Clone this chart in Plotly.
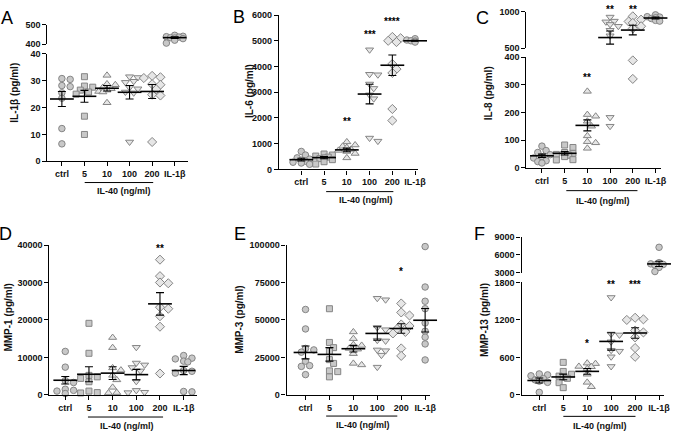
import plotly.graph_objects as go

W, H = 685, 436
groups = ["ctrl", "5", "10", "100", "200", "IL-1β"]

# panel A: IL-1beta (pg/ml)
il1b_pts = [
    [30.8, 30.5, 28.2, 27.8, 25.5, 23.5, 12.2, 6.5],
    [31.5, 28.0, 27.6, 26.5, 25.8, 25.0, 16.8, 10.0],
    [32.0, 28.8, 28.5, 27.5, 27.0, 26.5, 26.0, 25.8, 21.8],
    [31.5, 31.2, 29.8, 29.4, 27.5, 27.0, 25.8, 25.5, 7.2],
    [31.8, 31.3, 31.0, 28.7, 28.5, 26.8, 24.8, 24.5, 7.2],
    [445, 440, 438, 436, 433, 431, 428, 420, 405],
]
il1b_mean = [23.2, 24.2, 27.2, 25.7, 26.0, 433]
il1b_sem = [2.8, 2.2, 1.0, 2.5, 2.6, 4]
il1b_stars = []

# panel B: IL-6
il6_pts = [
    [700, 560, 450, 400, 360, 320, 280, 250, 200],
    [600, 560, 520, 480, 450, 420, 380, 300, 210],
    [1070, 950, 900, 850, 780, 740, 700, 620, 450],
    [4650, 3700, 3680, 3320, 3150, 2900, 2750, 1220, 1100],
    [5150, 5100, 5000, 4950, 4100, 3900, 3750, 2350, 1900],
    [5080, 5050, 5030, 5010, 5000, 4990, 4970, 4950, 4930],
]
il6_mean = [380, 460, 760, 2930, 4050, 5000]
il6_sem = [55, 45, 70, 380, 400, 20]
il6_stars = [(2, 1960, "**"), (3, 5320, "***"), (4, 5820, "****")]

# panel C: IL-8
il8_pts = [
    [78, 62, 55, 47, 40, 35, 25, 22, 17],
    [82, 73, 55, 52, 48, 45, 40, 29, 28],
    [276, 192, 186, 168, 150, 115, 94, 90, 70],
    [925, 870, 860, 825, 800, 745, 670, 182, 150],
    [935, 890, 865, 845, 800, 770, 388, 321],
    [955, 940, 930, 925, 915, 905, 895, 880, 870],
]
il8_mean = [43, 52, 153, 646, 748, 912]
il8_sem = [6, 6, 20, 90, 65, 12]
il8_stars = [(2, 335, "**"), (3, 1053, "**"), (4, 1053, "**")]

# panel D: MMP-1
mmp1_pts = [
    [11600, 7400, 3800, 3300, 1500, 1200, 1000, 350],
    [19100, 11100, 5200, 4800, 4400, 3500, 1000, 600, 500],
    [15300, 12600, 7200, 6600, 5200, 4000, 2000, 600, 500],
    [12700, 8500, 8000, 7300, 6400, 3600, 1200, 700, 600],
    [36100, 31700, 30000, 29800, 23400, 23000, 21000, 18200, 5700],
    [10500, 9800, 9600, 9000, 8800, 6500, 6300, 5800, 900, 800],
]
mmp1_mean = [3900, 5500, 5800, 5400, 24300, 6500]
mmp1_sem = [1000, 2000, 1700, 1400, 3000, 1100]
mmp1_stars = [(4, 39500, "**")]

# panel E: MMP-3
mmp3_pts = [
    [57000, 44000, 31000, 30000, 28500, 22500, 19500, 19000, 13500],
    [57500, 35000, 31500, 29000, 23500, 21000, 16000, 15500, 12000],
    [42000, 37500, 33500, 33000, 31000, 30500, 27500, 21000, 20000],
    [64500, 63500, 45000, 43500, 36500, 36000, 30000, 29500, 26500, 18500],
    [61000, 55000, 53000, 47000, 46000, 44000, 42000, 41000, 31000, 26000],
    [99000, 72000, 62500, 57500, 48000, 42500, 38500, 34000, 23300, 21700],
]
mmp3_mean = [28300, 27000, 30800, 41000, 44300, 49800]
mmp3_sem = [4300, 4500, 2200, 4500, 3200, 7800]
mmp3_stars = [(4, 84000, "*")]

# panel F: MMP-13
mmp13_pts = [
    [335, 320, 305, 260, 240, 220, 200, 40],
    [520, 375, 330, 300, 280, 265, 195, 115],
    [508, 500, 455, 450, 420, 330, 200, 130],
    [1560, 975, 960, 850, 715, 700, 610, 455],
    [1235, 1210, 1200, 1030, 1000, 920, 750, 610],
    [7300, 4700, 4600, 4500, 4400, 4300, 3900, 3650, 3200],
]
mmp13_mean = [230, 287, 376, 856, 991, 4490]
mmp13_sem = [40, 45, 45, 140, 85, 450]
mmp13_stars = [(2, 856, "*"), (3, 1800, "**"), (4, 1800, "***")]

symbols = ["circle", "square", "triangle-up", "triangle-down", "diamond", "circle"]
sizes = [6.5, 6, 7, 7, 7, 6.5]
fills = ["#c8c8c8", "#c8c8c8", "#e6e6e6", "#e6e6e6", "#e6e6e6", "#c8c8c8"]
edge = "#858585"
FONT = "Liberation Sans, Arial, sans-serif"

# segments: (lo, hi, tickvals, px_top, px_bottom), lower segment first
panels = [
    dict(letter="A", title="IL-1β (pg/ml)", pts=il1b_pts, mean=il1b_mean, sem=il1b_sem, stars=il1b_stars,
         xpx=(48, 190), xr=(-0.64, 5.58),
         segs=[(0, 40, [0, 10, 20, 30, 40], 50, 160), (400, 500, [400, 500], 20, 40)],
         lxy=(7.5, 13), txy=(15, 90), br=(85.7, 155, 181.7), lab=(125, 190.7)),
    dict(letter="B", title="IL-6 (pg/ml)", pts=il6_pts, mean=il6_mean, sem=il6_sem, stars=il6_stars,
         xpx=(282.3, 423), xr=(-0.98, 5.13),
         segs=[(0, 6000, [0, 1000, 2000, 3000, 4000, 5000, 6000], 10.3, 168.3)],
         lxy=(241.5, 12.5), txy=(253, 88), br=(330, 398, 191), lab=(370, 199.5)),
    dict(letter="C", title="IL-8 (pg/ml)", pts=il8_pts, mean=il8_mean, sem=il8_sem, stars=il8_stars,
         xpx=(532.7, 669), xr=(-0.68, 5.25),
         segs=[(0, 400, [0, 100, 200, 300, 400], 53.3, 166.5), (500, 1000, [500, 1000], 6.7, 44.3)],
         lxy=(488, 13.5), txy=(495, 90), br=(573, 645, 190), lab=(610, 200.5)),
    dict(letter="D", title="MMP-1 (pg/ml)", pts=mmp1_pts, mean=mmp1_mean, sem=mmp1_sem, stars=mmp1_stars,
         xpx=(50, 199), xr=(-0.67, 5.55),
         segs=[(0, 40000, [0, 10000, 20000, 30000, 40000], 245.7, 399)],
         lxy=(6, 234), txy=(9, 320), br=(89, 165, 421.7), lab=(128, 430.5)),
    dict(letter="E", title="MMP-3 (pg/ml)", pts=mmp3_pts, mean=mmp3_mean, sem=mmp3_sem, stars=mmp3_stars,
         xpx=(290, 435), xr=(-0.79, 5.2),
         segs=[(0, 100000, [0, 25000, 50000, 75000, 100000], 245.7, 399)],
         lxy=(243, 234), txy=(242, 322), br=(330, 402, 420.7), lab=(367, 430)),
    dict(letter="F", title="MMP-13 (pg/ml)", pts=mmp13_pts, mean=mmp13_mean, sem=mmp13_sem, stars=mmp13_stars,
         xpx=(527.7, 671.7), xr=(-0.74, 5.2),
         segs=[(0, 1800, [0, 600, 1200, 1800], 284, 399), (3000, 9000, [3000, 6000, 9000], 237.7, 274)],
         lxy=(485.5, 234), txy=(490, 322), br=(570, 643, 421), lab=(607, 430.5)),
]


def fx(px):
    return px / W


def fy(py):
    return 1 - py / H


def seg_of(v, segs):
    if len(segs) > 1 and v > segs[0][1]:
        return 1
    return 0


def ypix(v, segs):
    lo, hi, _, top, bot = segs[seg_of(v, segs)]
    return bot - (v - lo) / (hi - lo) * (bot - top)


def swarm(vals, segs, spacing):
    # deterministic scatter-dot spread: overlap allowed, width capped at +-2 steps
    placed = []
    res = [0.0] * len(vals)
    order = sorted(range(len(vals)), key=lambda k: -vals[k])
    for k in order:
        y = ypix(vals[k], segs)
        best, best_d = 0.0, -1
        for step in (0, 1, -1, 2, -2):
            x = step * 4.2
            d = min([((x - a) ** 2 + (y - b) ** 2) ** 0.5 for a, b in placed] or [99])
            if d >= 5.5:
                best = x
                break
            if d > best_d + 1.5:
                best, best_d = x, d
        placed.append((best, y))
        res[k] = best / spacing
    return res


fig = go.Figure()
axis_style = dict(showline=True, linecolor="black", linewidth=1.3, ticks="outside", ticklen=4,
                  tickwidth=1.3, tickcolor="black", showgrid=False, zeroline=False,
                  tickfont=dict(family=FONT, size=9, color="#111", weight="bold"))
annotations = []
shapes = []
yi = 0
for pi, p in enumerate(panels):
    xn = "x" if pi == 0 else f"x{pi + 1}"
    ynames = []
    for s in p["segs"]:
        yi += 1
        ynames.append("y" if yi == 1 else f"y{yi}")
    x0, x1 = p["xpx"]
    spacing = (x1 - x0) / (p["xr"][1] - p["xr"][0])
    fig.layout[xn.replace("x", "xaxis")] = dict(
        domain=[fx(x0), fx(x1)], range=list(p["xr"]), anchor=ynames[0],
        tickvals=list(range(6)), ticktext=groups, **axis_style)
    for s, yn in zip(p["segs"], ynames):
        lo, hi, tv, top, bot = s
        fig.layout[yn.replace("y", "yaxis")] = dict(
            domain=[fy(bot), fy(top)], range=[lo, hi], anchor=xn, tickvals=tv,
            ticktext=[str(t) for t in tv], **axis_style)

    for gi, vals in enumerate(p["pts"]):
        offs = swarm(vals, p["segs"], spacing)
        for si, yn in enumerate(ynames):
            sel = [k for k, v in enumerate(vals) if seg_of(v, p["segs"]) == si]
            if not sel:
                continue
            fig.add_trace(go.Scatter(
                x=[gi + offs[k] for k in sel], y=[vals[k] for k in sel], mode="markers",
                marker=dict(symbol=symbols[gi], size=sizes[gi], color=fills[gi],
                            line=dict(color=edge, width=1)),
                xaxis=xn, yaxis=yn, cliponaxis=False, hoverinfo="skip"))
    for si, yn in enumerate(ynames):
        sel = [g for g in range(6) if seg_of(p["mean"][g], p["segs"]) == si]
        if not sel:
            continue
        fig.add_trace(go.Scatter(
            x=sel, y=[p["mean"][g] for g in sel], mode="markers",
            marker=dict(symbol="line-ew", size=17, color="black", line=dict(color="black", width=1.6)),
            error_y=dict(type="data", array=[p["sem"][g] for g in sel], color="black",
                         thickness=1.1, width=4),
            xaxis=xn, yaxis=yn, cliponaxis=False, hoverinfo="skip"))

    for gi, val, txt in p["stars"]:
        annotations.append(dict(x=gi, y=fy(ypix(val, p["segs"])), xref=xn, yref="paper",
                                text=f"<b>{txt}</b>", showarrow=False, yanchor="middle", yshift=-2,
                                font=dict(family=FONT, size=10, color="black")))
    # panel letter
    annotations.append(dict(x=fx(p["lxy"][0]), y=fy(p["lxy"][1]), xref="paper", yref="paper",
                            text=p["letter"], showarrow=False, xanchor="center", yanchor="middle",
                            font=dict(family=FONT, size=18, color="black")))
    # y axis title
    annotations.append(dict(x=fx(p["txy"][0]), y=fy(p["txy"][1]), xref="paper", yref="paper",
                            text=f"<b>{p['title']}</b>", textangle=-90, showarrow=False,
                            xanchor="center", yanchor="middle",
                            font=dict(family=FONT, size=10, color="#111")))
    # IL-40 bracket
    bx0, bx1, by = p["br"]
    shapes.append(dict(type="line", xref="paper", yref="paper", x0=fx(bx0), x1=fx(bx1),
                       y0=fy(by), y1=fy(by), line=dict(color="black", width=1)))
    annotations.append(dict(x=fx(p["lab"][0]), y=fy(p["lab"][1]), xref="paper", yref="paper",
                            text="<b>IL-40 (ng/ml)</b>", showarrow=False, xanchor="center",
                            yanchor="middle", font=dict(family=FONT, size=9, color="#111")))

fig.update_layout(width=W, height=H, margin=dict(l=0, r=0, t=0, b=0), showlegend=False,
                  plot_bgcolor="white", paper_bgcolor="white",
                  annotations=annotations, shapes=shapes)
fig.write_html("out.html", config={"displayModeBar": False},
               post_script="document.body.style.margin='0';")
